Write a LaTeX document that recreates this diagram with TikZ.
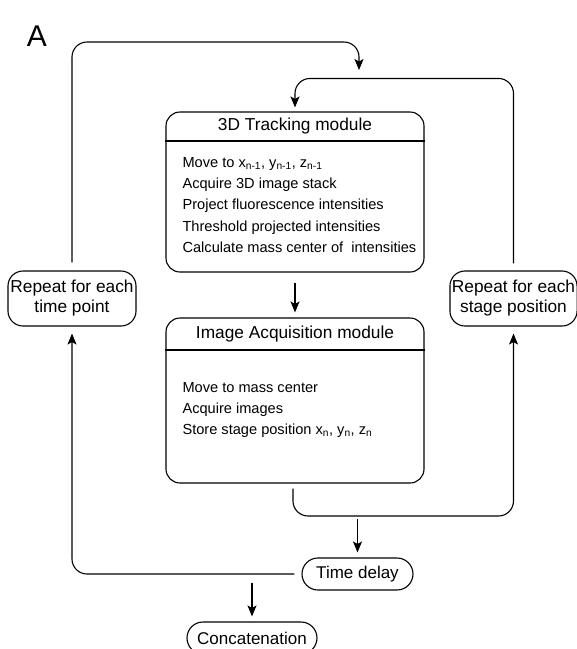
\documentclass[tikz,border=0pt]{standalone}
\usepackage{fontspec}
\setmainfont{Liberation Sans}
\usetikzlibrary{arrows.meta,positioning,calc}

\begin{document}
\begin{tikzpicture}[x=1pt, y=-1pt, line width=1.1pt,
    module/.style={draw, rounded corners=14pt, minimum width=258pt},
    title/.style={font=\fontsize{17.3}{20}\selectfont},
    steps/.style={align=left, anchor=north west, inner sep=0pt, font=\fontsize{14.6}{21.3}\selectfont},
    loopbox/.style={draw, rounded corners=15pt, minimum width=128pt, minimum height=55pt, inner sep=2pt, align=center, font=\fontsize{17.3}{20}\selectfont},
    pill/.style={draw, rounded corners=16pt, minimum height=32pt, font=\fontsize{17}{20}\selectfont},
    arrow/.style={-{Stealth[length=11pt, width=9pt, inset=2.5pt]}},
    link/.style={rounded corners=15pt}
]
    \useasboundingbox (0,0) rectangle (577,649);

    % Panel letter
    \node[font=\fontsize{30}{30}\selectfont] (panel) at (37,36) {A};

    % Tracking module
    \node[module, minimum height=160pt] (track) at (295,192) {};
    \node[title] (tracktitle) at (295,126) {3D Tracking module};
    \draw (track.west |- 0,141) -- (track.east |- 0,141);
    \node[steps] (tracksteps) at (182,156.5) {
        Move to x\textsubscript{n-1}, y\textsubscript{n-1}, z\textsubscript{n-1}\\
        Acquire 3D image stack\\
        Project fluorescence intensities\\
        Threshold projected intensities\\
        Calculate mass center of~ intensities
    };

    % Image acquisition module
    \node[module, minimum height=165pt] (acq) at (295,400.5) {};
    \node[title] (acqtitle) at (295,334) {Image Acquisition module};
    \draw (acq.west |- 0,350) -- (acq.east |- 0,350);
    \node[steps] (acqsteps) at (182,381.5) {
        Move to mass center\\
        Acquire images\\
        Store stage position x\textsubscript{n}, y\textsubscript{n}, z\textsubscript{n}
    };

    % Loops
    \node[loopbox] (tpoint) at (72,298.5) {Repeat for each\\time point};
    \node[loopbox, minimum width=127pt] (stage) at (513.5,298.5) {Repeat for each\\stage position};

    % End
    \node[pill, minimum width=111pt] (delay) at (357.5,574) {Time delay};
    \node[pill, minimum width=130pt] (concat) at (252,638) {Concatenation};

    \coordinate (outerin) at (359,70);

    \draw[arrow, shorten <=10pt, shorten >=5pt] (track) -- (acq);
    \draw[arrow, link] ([yshift=8pt]tpoint.north) |- (outerin |- 0,42) -- (outerin);
    \draw[arrow, link] ([yshift=7pt]stage.north) |- ([yshift=33pt]track.north) -- ([yshift=4pt]track.north);
    \draw[arrow, link] ([xshift=-2pt, yshift=-5pt]acq.south) |- (stage.south |- 0,516) -- ([yshift=-7pt]stage.south);
    \draw[arrow] ([yshift=38pt]delay.north) -- ([yshift=5pt]delay.north);
    \draw[arrow, link] ([xshift=-7pt]delay.west) -| ([yshift=-7pt]tpoint.south);
    \draw[arrow] ([yshift=38pt]concat.north) -- ([yshift=5pt]concat.north);
\end{tikzpicture}
\end{document}
